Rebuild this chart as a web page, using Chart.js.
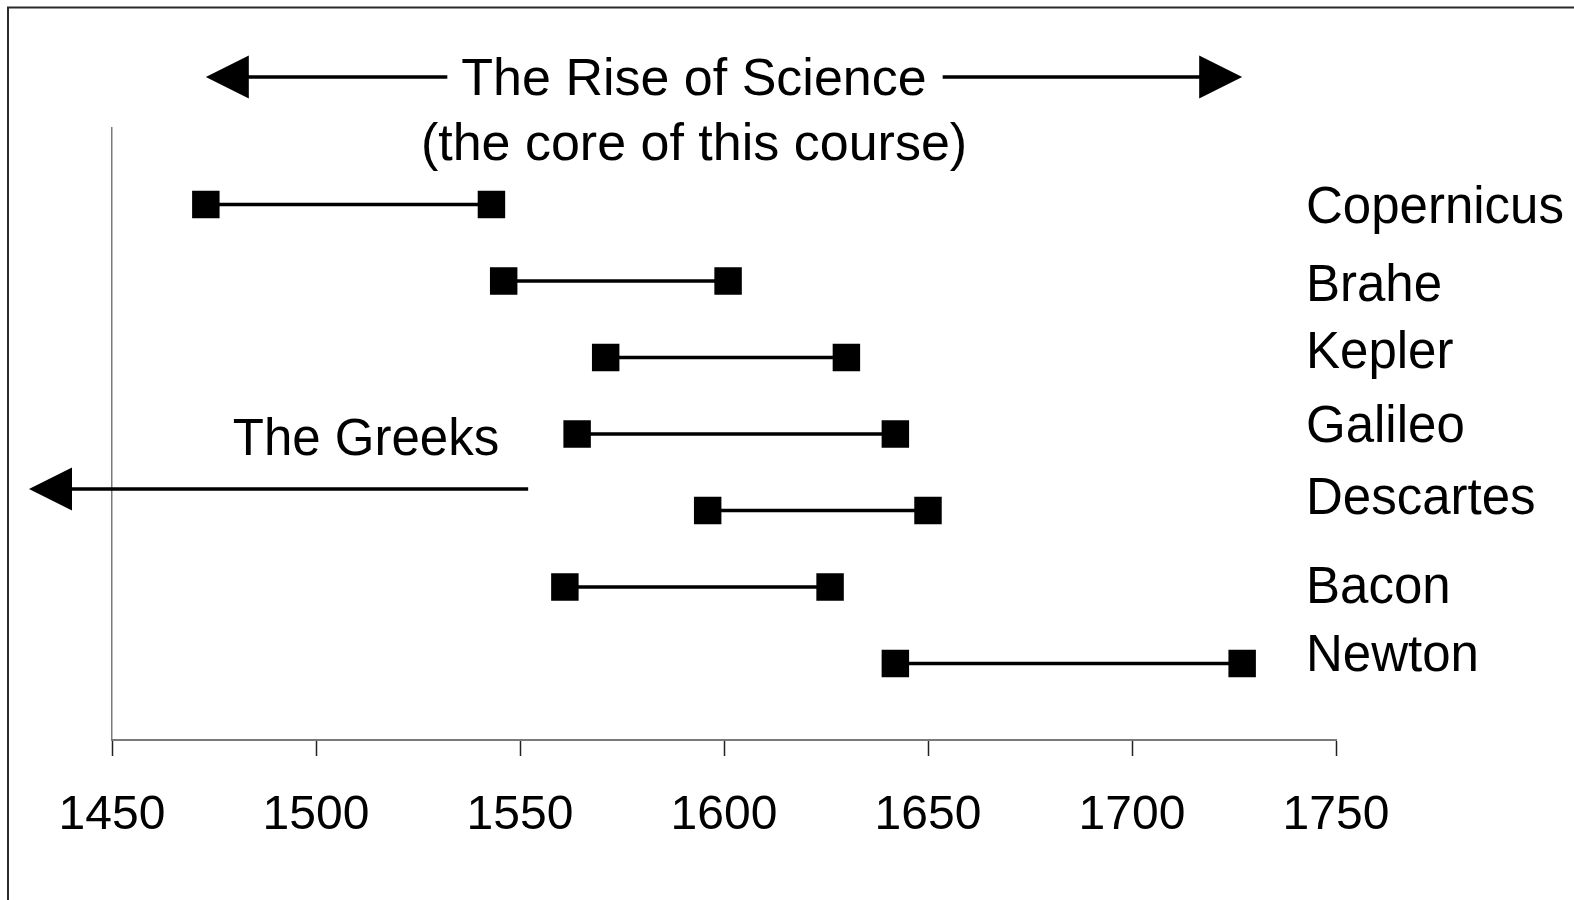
<!DOCTYPE html>
<html>
<head>
<meta charset="utf-8">
<script src="https://cdn.jsdelivr.net/npm/chart.js@4"></script>
<style>
  body { margin: 0; background: #fff; }
  canvas { display: block; }
</style>
</head>
<body>
<canvas id="timeline" width="1574" height="900"></canvas>
<script>
// lifespans
const scientists = ["Copernicus", "Brahe", "Kepler", "Galileo", "Descartes", "Bacon", "Newton"];
const bornYears = [1473, 1546, 1571, 1564, 1596, 1561, 1642];
const diedYears = [1543, 1601, 1630, 1642, 1650, 1626, 1727];

const FONT = "'Liberation Sans', Arial, sans-serif";

// the names do not sit exactly on their rows in the original
const nameNudge = [4, 6, -4, -6, -11, 2, -7];

function arrowHead(ctx, tipX, y, dir) {
    ctx.beginPath();
    ctx.moveTo(tipX, y);
    ctx.lineTo(tipX - dir * 43, y - 21.5);
    ctx.lineTo(tipX - dir * 43, y + 21.5);
    ctx.closePath();
    ctx.fill();
}

const notesPlugin = {
    id: "notes",
    afterDraw(chart) {
        const ctx = chart.ctx;
        const xs = chart.scales.x;
        const ys = chart.scales.y;
        ctx.save();
        ctx.fillStyle = "#000";
        ctx.strokeStyle = "#000";
        ctx.lineWidth = 3.5;
        ctx.font = "52px " + FONT;
        ctx.textBaseline = "middle";
        ctx.textAlign = "center";

        // The Rise of Science, double arrow
        const riseY = 77;
        const left = xs.getPixelForValue(bornYears[0]);
        const right = xs.getPixelForValue(diedYears[diedYears.length - 1]);
        const title = "The Rise of Science";
        const cx = 694;
        const half = ctx.measureText(title).width / 2;
        ctx.fillText(title, cx, riseY + 4);
        ctx.fillText("(the core of this course)", cx, 146);
        ctx.beginPath();
        ctx.moveTo(left + 40, riseY);
        ctx.lineTo(cx - half - 14, riseY);
        ctx.moveTo(cx + half + 16, riseY);
        ctx.lineTo(right - 40, riseY);
        ctx.stroke();
        arrowHead(ctx, left, riseY, -1);
        arrowHead(ctx, right, riseY, 1);

        // The Greeks, arrow out to the left
        ctx.font = "51px " + FONT;
        ctx.fillText("The Greeks", 366, 441);
        const gy = 489;
        ctx.beginPath();
        ctx.moveTo(xs.getPixelForValue(1552), gy);
        ctx.lineTo(68, gy);
        ctx.stroke();
        arrowHead(ctx, 29, gy, -1);

        // names on the right
        ctx.textAlign = "left";
        scientists.forEach((name, i) => {
            ctx.fillText(name, 1306, ys.getPixelForValue(i + 1) + nameNudge[i]);
        });

        // frame edges
        ctx.lineWidth = 2;
        ctx.strokeStyle = "#2a2a2a";
        ctx.beginPath();
        ctx.moveTo(8, 900);
        ctx.lineTo(8, 7.5);
        ctx.lineTo(1574, 7.5);
        ctx.stroke();
        ctx.restore();
    }
};

const datasets = scientists.map((name, i) => ({
    label: name,
    data: [{ x: bornYears[i], y: i + 1 }, { x: diedYears[i], y: i + 1 }],
    borderColor: "#000",
    borderWidth: 3.5,
    backgroundColor: "#000",
    pointStyle: "rect",
    pointRadius: 18,
    pointBorderWidth: 2,
    pointBorderColor: "#000",
    pointBackgroundColor: "#000",
    showLine: true
}));

new Chart(document.getElementById("timeline"), {
    type: "scatter",
    data: { datasets: datasets },
    options: {
        responsive: false,
        animation: false,
        events: [],
        layout: { padding: { left: 112, right: 238, top: 128, bottom: 0 } },
        plugins: {
            legend: { display: false },
            tooltip: { enabled: false }
        },
        scales: {
            x: {
                type: "linear",
                min: 1450,
                max: 1750,
                afterFit(scale) { scale.height = 160; },
                ticks: {
                    stepSize: 50,
                    padding: 31,
                    color: "#000",
                    font: { family: FONT, size: 48 },
                    callback: (v) => String(v)
                },
                grid: {
                    drawOnChartArea: false,
                    drawTicks: true,
                    tickLength: 16,
                    tickColor: "#222",
                    tickWidth: 1.5
                },
                border: { color: "#7a7a7a", width: 2 }
            },
            y: {
                type: "linear",
                min: 0,
                max: 8,
                reverse: true,
                afterFit(scale) { scale.width = 0; },
                ticks: { display: false },
                grid: { display: false },
                border: { color: "#7a7a7a", width: 1.5 }
            }
        }
    },
    plugins: [notesPlugin]
});
</script>
</body>
</html>
